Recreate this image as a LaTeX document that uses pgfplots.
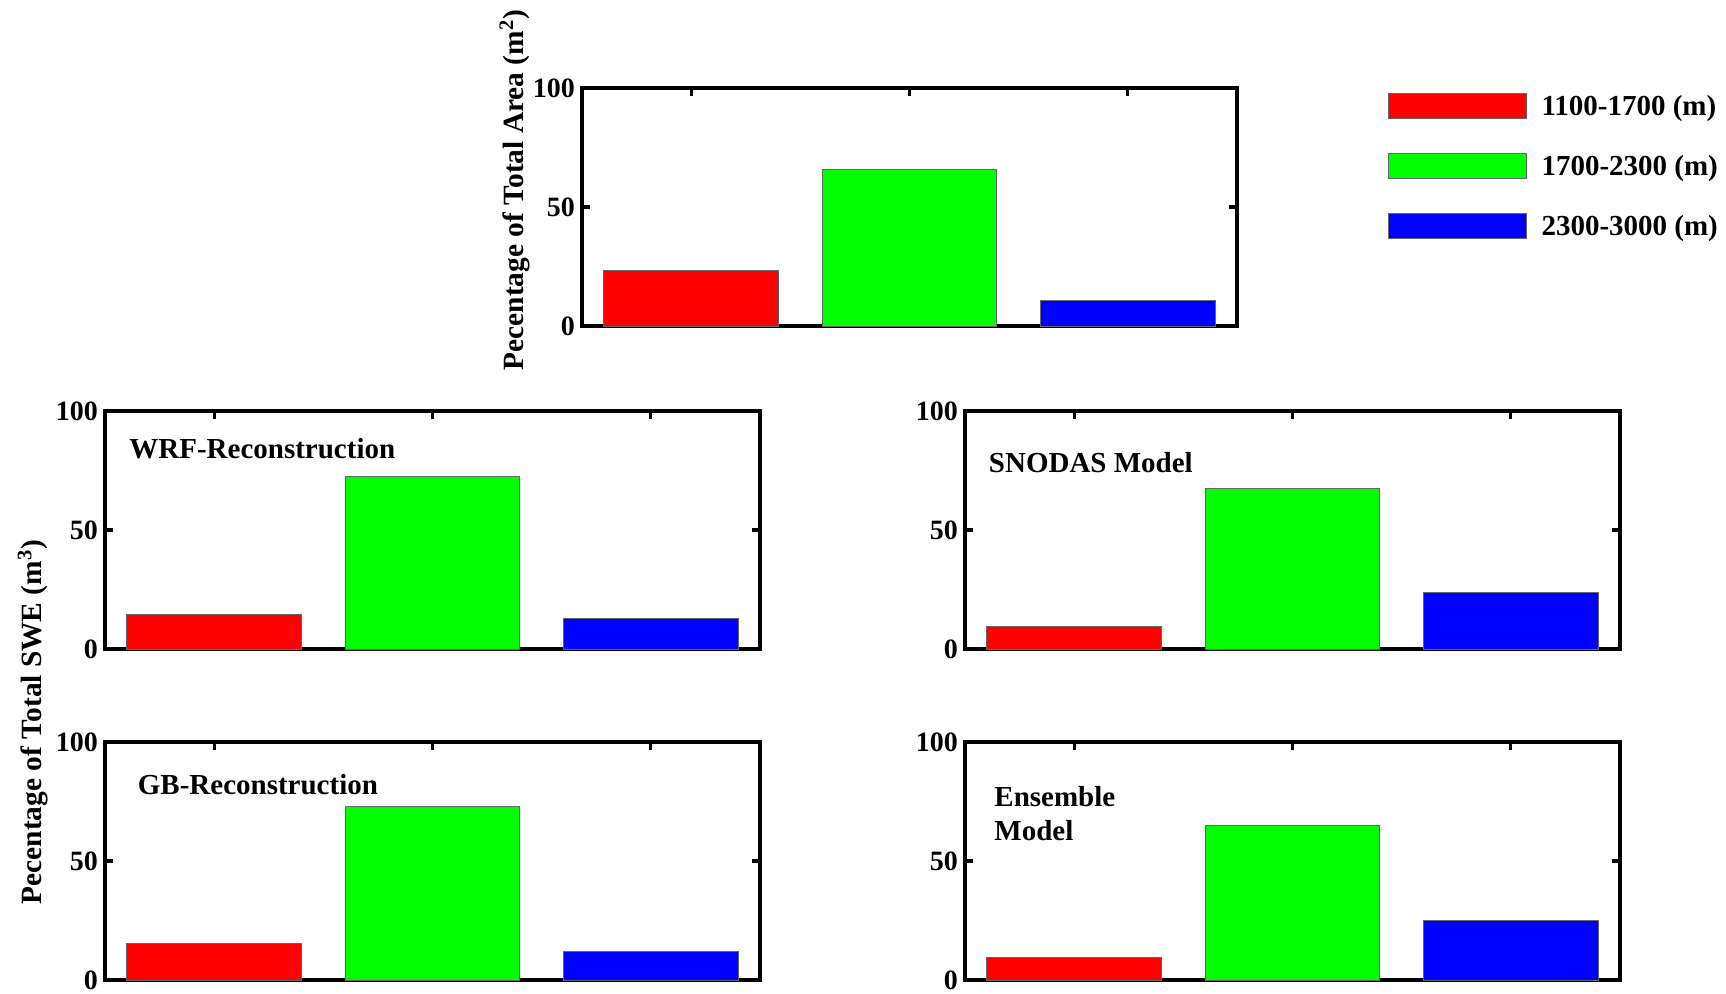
\documentclass[border=0pt]{standalone}
\usepackage{pgfplots}
\pgfplotsset{compat=1.18}
\usepackage{fontspec}
\setmainfont{Liberation Serif}

\newcommand{\txtfont}{\fontsize{14.5}{17}\selectfont\bfseries}

\pgfplotsset{
  panel/.style={
    scale only axis, width=327.5pt, height=119pt,
    anchor=south west,
    xmin=0.5, xmax=3.5, ymin=0, ymax=100,
    xtick={1,2,3}, xticklabels={},
    ytick={0,50,100},
    xtick pos=right, ytick pos=both, yticklabel pos=left,
    tick align=inside,
    major tick length=4pt,
    axis line style={line width=1.6pt},
    every tick/.style={line width=1.6pt, black},
    tick label style={font=\fontsize{14}{16}\selectfont\bfseries},
    label style={font=\fontsize{14.7}{17}\selectfont\bfseries},
    /pgf/number format/assume math mode=true,
    clip=false,
  },
  bR/.style={ybar, bar width=0.8, bar shift=0pt, fill=red, draw=black!60, line width=0.5pt},
  bG/.style={ybar, bar width=0.8, bar shift=0pt, fill=green, draw=black!60, line width=0.5pt},
  bB/.style={ybar, bar width=0.8, bar shift=0pt, fill=blue, draw=black!60, line width=0.5pt},
}

\begin{document}
\begin{tikzpicture}
\useasboundingbox (0,0) rectangle (863pt,496.5pt);

% Top: area
\begin{axis}[panel, at={(291pt,333.5pt)},
  ylabel={Pecentage of Total Area (m\textsuperscript{2})},
  ylabel style={at={(axis description cs:-0.1026,0.571)}, anchor=center},
  legend style={at={(1.2298,0.981)}, anchor=north west, draw=none, fill=none,
    inner sep=0pt, outer sep=0pt, row sep=17pt, font=\txtfont,
    nodes={inner sep=0pt, text height=10pt, text depth=0pt},
    /tikz/column 1/.style={column sep=7.5pt}},
  legend cell align=left,
  legend image code/.code={\fill[#1] (0pt,-6.25pt) rectangle (69pt,6.25pt);},
]
\addplot[bR] coordinates {(1,23.2)};
\addplot[bG] coordinates {(2,65.7)};
\addplot[bB] coordinates {(3,10.7)};
\legend{1100-1700 (m), 1700-2300 (m), 2300-3000 (m)}
\end{axis}

% Middle left: WRF
\begin{axis}[panel, at={(52.5pt,172pt)}]
\addplot[bR] coordinates {(1,14.3)};
\addplot[bG] coordinates {(2,72.6)};
\addplot[bB] coordinates {(3,12.8)};
\node[anchor=west, inner sep=0pt, font=\txtfont] at (axis cs:0.61,84.3) {WRF-Reconstruction};
\end{axis}

% Middle right: SNODAS
\begin{axis}[panel, at={(482.5pt,172pt)}]
\addplot[bR] coordinates {(1,9.5)};
\addplot[bG] coordinates {(2,67.5)};
\addplot[bB] coordinates {(3,23.6)};
\node[anchor=west, inner sep=0pt, font=\txtfont] at (axis cs:0.608,78.3) {SNODAS Model};
\end{axis}

% Bottom left: GB
\begin{axis}[panel, at={(52.5pt,6.5pt)},
  ylabel={Pecentage of Total SWE (m\textsuperscript{3})},
  ylabel style={at={(axis description cs:-0.11,1.084)}, anchor=center},
]
\addplot[bR] coordinates {(1,15.2)};
\addplot[bG] coordinates {(2,72.7)};
\addplot[bB] coordinates {(3,12.1)};
\node[anchor=west, inner sep=0pt, font=\txtfont] at (axis cs:0.649,82.2) {GB-Reconstruction};
\end{axis}

% Bottom right: Ensemble
\begin{axis}[panel, at={(482.5pt,6.5pt)}]
\addplot[bR] coordinates {(1,9.6)};
\addplot[bG] coordinates {(2,65.1)};
\addplot[bB] coordinates {(3,25.1)};
\node[anchor=west, inner sep=0pt, align=left, font=\txtfont] at (axis cs:0.633,69.8) {Ensemble\\Model};
\end{axis}
\end{tikzpicture}
\end{document}
